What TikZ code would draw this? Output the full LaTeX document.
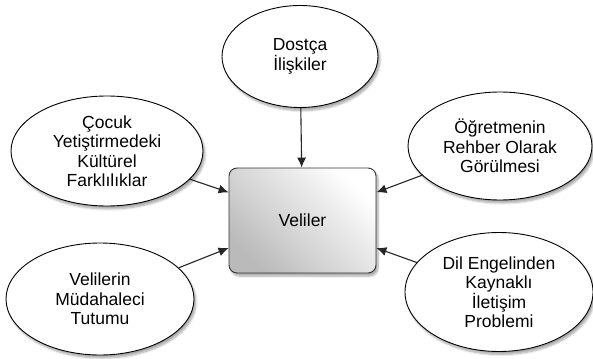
\documentclass[tikz,border=0pt]{standalone}
\usepackage{fontspec}
\setmainfont{Liberation Sans}
\usetikzlibrary{arrows.meta,shadows.blur,calc,shapes.geometric}
\begin{document}
\begin{tikzpicture}[x=1pt,y=-1pt,
  bubble/.style={draw=black,line width=0.9pt,fill=white,ellipse,inner sep=0pt,
    blur shadow={shadow xshift=2pt,shadow yshift=-3pt,shadow blur steps=6,shadow opacity=35},
    align=center,font=\fontsize{17.5}{19.5}\selectfont},
  centerbox/.style={draw=black!80,line width=0.9pt,rounded corners=8pt,
    top color=white,bottom color=black!27,shading angle=-45,
    blur shadow={shadow xshift=2pt,shadow yshift=-3pt,shadow blur steps=6,shadow opacity=35},
    minimum width=147pt,minimum height=105pt,inner sep=0pt,
    font=\fontsize{17.5}{20}\selectfont},
  conn/.style={-{Latex[length=10pt,width=9pt]},line width=1.1pt,black!85}]
\useasboundingbox (0,0) rectangle (593,358);
\node[centerbox] (box) at (302.5,220.5) {Veliler};
\node[bubble,minimum width=156pt,minimum height=102pt] (dost) at (300,56.5) {Dostça\\İlişkiler};
\node[bubble,minimum width=192pt,minimum height=110pt] (cocuk) at (107,151) {Çocuk\\Yetiştirmedeki\\Kültürel\\Farklılıklar};
\node[bubble,minimum width=184pt,minimum height=108pt] (ogret) at (500,146) {Öğretmenin\\Rehber Olarak\\Görülmesi};
\node[bubble,minimum width=188pt,minimum height=112pt] (veli) at (100,299) {Velilerin\\Müdahaleci\\Tutumu};
\node[bubble,minimum width=188pt,minimum height=119pt] (dil) at (499,292) {Dil Engelinden\\Kaynaklı\\İletişim\\Problemi};
\coordinate (bl1) at ($(box.north west)!0.234!(box.south west)$);
\coordinate (bl2) at ($(box.north west)!0.76!(box.south west)$);
\coordinate (br1) at ($(box.north east)!0.234!(box.south east)$);
\coordinate (br2) at ($(box.north east)!0.76!(box.south east)$);
\draw[conn] (dost) -- (box);
\draw[conn] (cocuk) -- (bl1);
\draw[conn] (veli) -- (bl2);
\draw[conn] (ogret) -- (br1);
\draw[conn] (dil) -- (br2);
\end{tikzpicture}
\end{document}
